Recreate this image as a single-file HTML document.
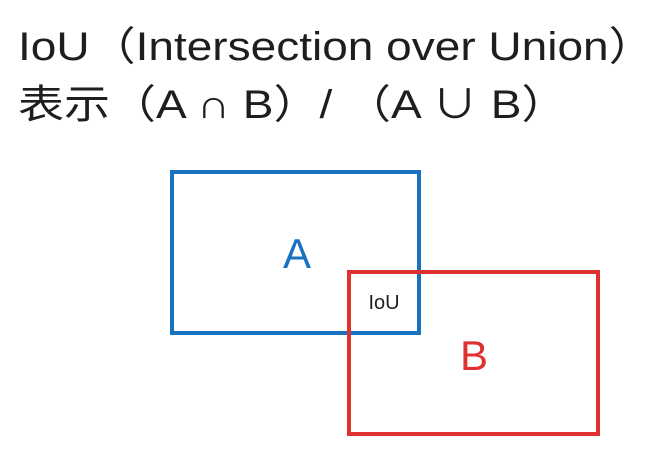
<!DOCTYPE html>
<html><head><meta charset="utf-8">
<style>
html,body{margin:0;padding:0;background:#fff;}
body{width:656px;height:466px;position:relative;overflow:hidden;font-family:"Liberation Sans","Noto Sans CJK SC",sans-serif;color:#1e1e1e;}
.t{position:absolute;left:18px;font-size:40px;white-space:nowrap;line-height:44px;transform:scaleX(1.15);transform-origin:0 0;}
</style></head>
<body>
<div class="t" style="top:25px">IoU（Intersection over Union）</div>
<div class="t" style="top:83px">表示（A ∩ B）/ （A ∪ B）</div>
<svg width="656" height="466" style="position:absolute;left:0;top:0">
  <rect x="172" y="172" width="247" height="161" fill="none" stroke="#1971c2" stroke-width="4"/>
  <rect x="349" y="272" width="249" height="162" fill="none" stroke="#e03131" stroke-width="4"/>
  <text x="297" y="268" font-size="42" fill="#1971c2" text-anchor="middle" font-family="Liberation Sans, sans-serif">A</text>
  <text x="474" y="370" font-size="42" fill="#e03131" text-anchor="middle" font-family="Liberation Sans, sans-serif">B</text>
  <text x="384" y="309" font-size="20" fill="#1e1e1e" text-anchor="middle" font-family="Liberation Sans, sans-serif">IoU</text>
</svg>
</body></html>
